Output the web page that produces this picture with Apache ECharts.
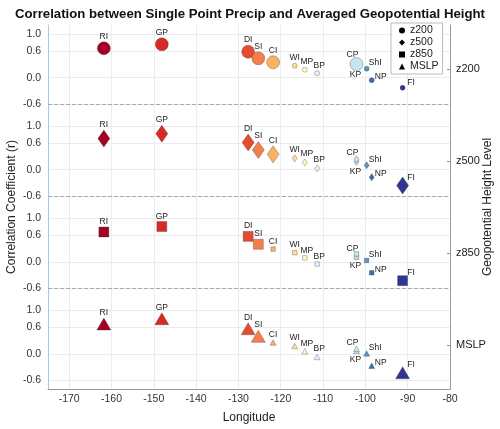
<!DOCTYPE html>
<html>
<head>
<meta charset="utf-8">
<script src="https://cdn.jsdelivr.net/npm/echarts@6/dist/echarts.min.js"></script>
<style>
  html, body { margin: 0; padding: 0; background: #fff; }
  #chart { width: 500px; height: 429px; }
</style>
</head>
<body>
<div id="chart"></div>
<script>
// stations, west to east (KP before CP so CP sits on top of it)
const stations = ["RI", "GP", "DI", "SI", "CI", "WI", "MP", "BP", "KP", "CP", "ShI", "NP", "FI"];
const longitudes = [-161.8, -148.1, -127.7, -125.3, -121.8, -116.7, -114.3, -111.4, -102.1, -102.1, -99.7, -98.5, -91.2];

const levels = ["z200", "z500", "z850", "MSLP"];

// correlation per level, same order as stations
const rZ200 = [0.67, 0.76, 0.59, 0.44, 0.35, 0.27, 0.18, 0.10, 0.26, 0.31, 0.205, -0.06, -0.23];
const rZ500 = [0.71, 0.82, 0.62, 0.45, 0.35, 0.26, 0.165, 0.03, 0.18, 0.24, 0.10, -0.17, -0.36];
const rZ850 = [0.68, 0.805, 0.58, 0.40, 0.29, 0.21, 0.09, -0.05, 0.10, 0.18, 0.03, -0.25, -0.43];
const rMSLP = [0.68, 0.80, 0.575, 0.40, 0.26, 0.18, 0.06, -0.07, 0.07, 0.12, 0.01, -0.27, -0.43];

// large marker = 1
const bigZ200 = [1, 1, 1, 1, 1, 0, 0, 0, 0, 1, 0, 0, 0];
const bigZ500 = [1, 1, 1, 1, 1, 0, 0, 0, 0, 0, 0, 0, 1];
const bigZ850 = [1, 1, 1, 1, 0, 0, 0, 0, 0, 0, 0, 0, 1];
const bigMSLP = [1, 1, 1, 1, 0, 0, 0, 0, 0, 0, 0, 0, 1];

const yTicks = [1.0, 0.6, 0.0, -0.6];
const xTicks = [-170, -160, -150, -140, -130, -120, -110, -100, -90, -80];

const allR = [rZ200, rZ500, rZ850, rMSLP];
const allBig = [bigZ200, bigZ500, bigZ850, bigMSLP];

const stationColors = ["#a50026", "#d52b24", "#e64b30", "#f57e4a", "#fdb062", "#fde08d", "#fefbc0",
  "#e3f3f5", "#b5dce9", "#c4e6f0", "#5b93c7", "#3d6bb0", "#2e3592"];

const STEP = 2.1;   // vertical shift between stacked panels
const symbols = ["circle", "diamond", "rect", "triangle"];
const bigSize = [13, [12, 17], 10, [14, 12]];
const smallSize = [5, [5, 7], 4.5, [6, 5.5]];

const FONT = "Liberation Sans, Arial, Helvetica, sans-serif";

const labelFor = (name, big) => {
  const base = { show: true, formatter: "{b}", position: "top", distance: 0.5, fontSize: 8.5, color: "#222", fontFamily: FONT };
  if (name === "CP") return { ...base, offset: [-4, 2] };
  if (name === "KP") return { ...base, position: "bottom", distance: 1.5, offset: [-1, 0] };
  if (name === "MP" || name === "BP") return { ...base, offset: [2, 0] };
  if (name === "ShI") return { ...base, position: "inside", offset: [8.5, -6] };
  if (name === "NP") return { ...base, position: "inside", offset: [9, -3.5] };
  if (name === "FI") return { ...base, position: "inside", offset: [8.5, big ? -8 : -5.5] };
  return base;
};

const series = levels.map((lev, k) => ({
  name: lev,
  type: "scatter",
  symbol: symbols[k],
  itemStyle: { color: "#000", opacity: 1, borderColor: "rgba(60,60,60,0.55)", borderWidth: 0.6 },
  data: stations.map((s, i) => ({
    name: s,
    value: [longitudes[i], +(allR[k][i] - k * STEP).toFixed(3)],
    symbolSize: allBig[k][i] ? bigSize[k] : smallSize[k],
    itemStyle: { color: stationColors[i], opacity: 1 },
    label: labelFor(s, allBig[k][i]),
  })),
  markLine: k === 0 ? {
    silent: true,
    symbol: "none",
    label: { show: false },
    lineStyle: { type: "dashed", color: "#aaa", width: 1 },
    data: [0, 1, 2].map((j) => ({ yAxis: +(-0.6 - j * STEP).toFixed(2) })),
  } : undefined,
}));

const leftTickValues = [];
levels.forEach((l, k) => yTicks.forEach((t) => leftTickValues.push(+(t - k * STEP).toFixed(2))));
const rightTickValues = levels.map((l, k) => +(0.2 - k * STEP).toFixed(2));
const panelOf = (v) => Math.round((0.2 - v) / STEP);

const chart = echarts.init(document.getElementById("chart"));
chart.setOption({
  animation: false,
  textStyle: { fontFamily: FONT },
  title: {
    text: "Correlation between Single Point Precip and Averaged Geopotential Height",
    left: "center",
    top: 3,
    textStyle: { fontSize: 13.2, fontWeight: "bold", color: "#111", fontFamily: FONT },
  },
  legend: {
    orient: "vertical",
    left: 391,
    top: 23,
    padding: [2, 4, 2, 8],
    itemGap: 1,
    itemWidth: 6,
    itemHeight: 6,
    backgroundColor: "#fff",
    borderColor: "#bbb",
    borderWidth: 1,
    borderRadius: 0,
    textStyle: { fontSize: 10.5, color: "#222", lineHeight: 11, fontFamily: FONT },
    data: levels.map((l, k) => ({ name: l, icon: symbols[k], itemStyle: { color: "#000", borderWidth: 0 } })),
  },
  grid: { left: 48, right: 50, top: 25, bottom: 40, containLabel: false, outerBoundsMode: "none" },
  xAxis: {
    type: "value",
    min: -175,
    max: -80,
    name: "Longitude",
    nameLocation: "middle",
    nameGap: 23,
    nameMoveOverlap: false,
    nameTextStyle: { fontSize: 12, color: "#222" },
    axisLine: { show: true, onZero: false, lineStyle: { color: "#999" } },
    axisTick: { show: false, customValues: xTicks },
    axisLabel: { customValues: xTicks, fontSize: 10.5, color: "#333", margin: 5 },
    splitLine: { show: true, lineStyle: { color: "#ececec" } },
  },
  yAxis: [
    {
      type: "value",
      min: -7.1,
      max: 1.2,
      name: "Correlation Coefficient (r)",
      nameLocation: "middle",
      nameGap: 30,
      nameMoveOverlap: false,
      nameTextStyle: { fontSize: 12, color: "#222" },
      axisLine: { show: true, onZero: false, lineStyle: { color: "#a9c7e6" } },
      axisTick: { show: false, customValues: leftTickValues },
      axisLabel: {
        customValues: leftTickValues,
        fontSize: 10.5,
        color: "#333",
        margin: 7,
        formatter: (v) => {
          const r = v + panelOf(v) * STEP;
          const s = (Math.round(r * 10) / 10).toFixed(1);
          return s === "-0.0" ? "0.0" : s;
        },
      },
      splitLine: { show: true, lineStyle: { color: "#ececec" } },
    },
    {
      type: "value",
      position: "right",
      min: -7.1,
      max: 1.2,
      name: "Geopotential Height Level",
      nameLocation: "middle",
      nameRotate: 90,
      nameGap: 32,
      nameMoveOverlap: false,
      nameTextStyle: { fontSize: 12, color: "#222" },
      axisLine: { show: true, onZero: false, lineStyle: { color: "#999" } },
      axisTick: { show: true, inside: true, length: 3, customValues: rightTickValues, lineStyle: { color: "#999" } },
      axisLabel: {
        customValues: rightTickValues,
        fontSize: 11,
        color: "#222",
        margin: 6,
        formatter: (v) => levels[panelOf(v)],
      },
      splitLine: { show: false },
    },
  ],
  series: series,
});
</script>
</body>
</html>
